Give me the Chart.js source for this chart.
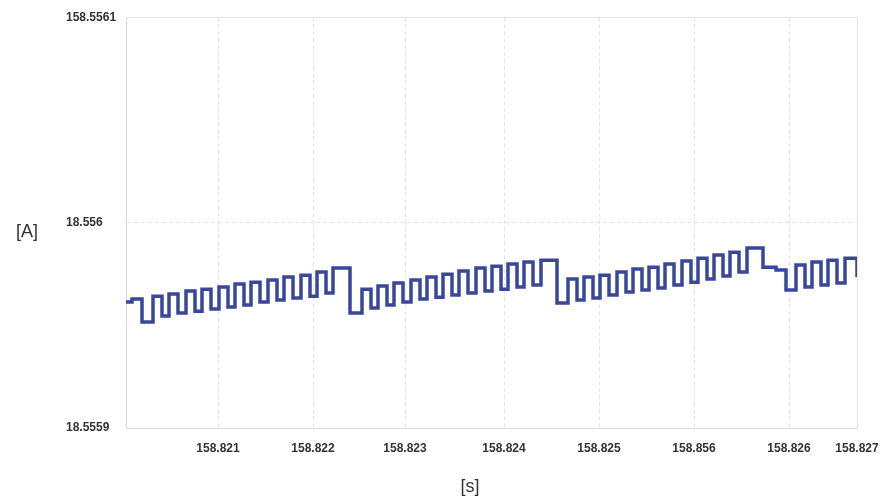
<!DOCTYPE html>
<html>
<head>
<meta charset="utf-8">
<title>Current trace</title>
<script src="https://cdn.jsdelivr.net/npm/chart.js@4.4.1/dist/chart.umd.min.js"></script>
<style>
    body { margin: 0; background: #fff; }
    #wrap { width: 881px; height: 502px; position: relative; }
</style>
</head>
<body>
<div id="wrap"><canvas id="traceChart"></canvas></div>
<script>
// Time in microseconds from the left edge, current in microamps above 18.5559 A.
// Each burst is a list of step changes: [time, new level].
const burst1 = [
    [0, 61.3], [60, 62.8], [160, 51.6],
    [270, 64.2], [360, 54.5], [430, 65.2], [520, 56.0], [600, 66.7], [690, 56.9],
    [760, 67.6], [850, 57.9], [930, 68.6], [1020, 58.9], [1090, 70.1], [1180, 59.9],
    [1250, 71.0], [1340, 61.3], [1420, 72.0], [1510, 62.3], [1580, 73.5], [1670, 63.3],
    [1750, 74.4], [1840, 64.2], [1910, 75.9], [2000, 65.7], [2070, 77.9]
];
const burst2 = [
    [2240, 56.0], [2360, 67.6], [2450, 58.4], [2520, 69.1], [2610, 59.9], [2680, 70.6],
    [2770, 61.3], [2850, 72.0], [2940, 62.8], [3010, 73.5], [3100, 63.7], [3170, 74.9],
    [3260, 64.7], [3330, 76.4], [3420, 65.7], [3500, 77.9], [3590, 66.7], [3660, 78.8],
    [3750, 67.6], [3820, 79.8], [3910, 68.6], [3980, 80.8], [4070, 69.6], [4150, 81.7]
];
const burst3 = [
    [4310, 60.8], [4420, 72.5], [4510, 62.3], [4580, 73.5], [4670, 63.3], [4740, 74.4],
    [4830, 64.7], [4910, 75.9], [5000, 66.2], [5070, 77.4], [5160, 67.2], [5230, 78.3],
    [5320, 68.1], [5390, 79.8], [5480, 69.6], [5560, 81.3], [5650, 71.0], [5720, 82.7],
    [5810, 72.5], [5880, 84.2], [5970, 74.0], [6040, 85.6], [6130, 75.9], [6210, 87.6]
];
const burst4 = [
    [6370, 78.3], [6500, 76.9], [6600, 67.2],
    [6700, 79.3], [6790, 68.6], [6860, 80.8], [6950, 69.6], [7020, 81.7], [7110, 70.6],
    [7190, 82.7], [7310, 73.5]
];

const xTickPos = [920, 1870, 2790, 3780, 4730, 5680, 6630, 7310];
const xTickLabels = ['158.821', '158.822', '158.823', '158.824', '158.825', '158.856', '158.826', '158.827'];
const yTickPos = [0, 100, 200];
const yTickLabels = ['18.5559', '18.556', '158.5561'];
const xTitle = '[s]';
const yTitle = '[A]';

const tracePoints = [...burst1, ...burst2, ...burst3, ...burst4].map(p => ({ x: p[0], y: p[1] }));

const tickFont = { family: "'Liberation Sans', Arial, sans-serif", size: 12, weight: 'bold' };

// Axis titles are drawn flat (not rotated), like the original
const axisTitles = {
    id: 'axisTitles',
    afterDraw(chart) {
        const ctx = chart.ctx;
        ctx.save();
        ctx.font = "18px 'Liberation Sans', Arial, sans-serif";
        ctx.fillStyle = '#333';
        ctx.textAlign = 'center';
        ctx.textBaseline = 'middle';
        ctx.fillText(yTitle, 27, 232);
        ctx.fillText(xTitle, 470, 487);
        ctx.restore();
    }
};

new Chart(document.getElementById('traceChart'), {
    type: 'line',
    data: {
        datasets: [{
            data: tracePoints,
            borderColor: '#39479a',
            borderWidth: 3.5,
            stepped: 'before',
            pointRadius: 0,
            fill: false
        }]
    },
    options: {
        responsive: true,
        maintainAspectRatio: false,
        animation: false,
        layout: { padding: { left: 66, right: 24, top: 17, bottom: 0 } },
        plugins: {
            legend: { display: false },
            tooltip: { enabled: false }
        },
        scales: {
            x: {
                type: 'linear',
                min: 0,
                max: 7310,
                afterBuildTicks: scale => { scale.ticks = xTickPos.map(v => ({ value: v })); },
                afterFit: scale => {
                    scale.height = 74;
                    scale.paddingLeft = 0;
                    scale.paddingRight = 0;
                },
                grid: { color: '#e4e4e4', drawTicks: false },
                border: {
                    display: true,
                    color: '#dadada',
                    dash: ctx => (ctx.tick && ctx.tick.value === 7310) ? [] : [4, 3]
                },
                ticks: {
                    autoSkip: false,
                    maxRotation: 0,
                    padding: 13,
                    color: '#333',
                    font: tickFont,
                    callback: (value, index) => xTickLabels[index]
                }
            },
            y: {
                type: 'linear',
                min: 0,
                max: 200,
                afterBuildTicks: scale => { scale.ticks = yTickPos.map(v => ({ value: v })); },
                afterFit: scale => { scale.width = 60; },
                grid: { color: '#e4e4e4', drawTicks: false },
                border: {
                    display: true,
                    color: '#dadada',
                    dash: ctx => (ctx.tick && ctx.tick.value !== 100) ? [] : [4, 3]
                },
                ticks: {
                    crossAlign: 'far',
                    padding: 10,
                    color: '#333',
                    font: tickFont,
                    callback: (value, index) => yTickLabels[index]
                }
            }
        }
    },
    plugins: [axisTitles]
});
</script>
</body>
</html>
